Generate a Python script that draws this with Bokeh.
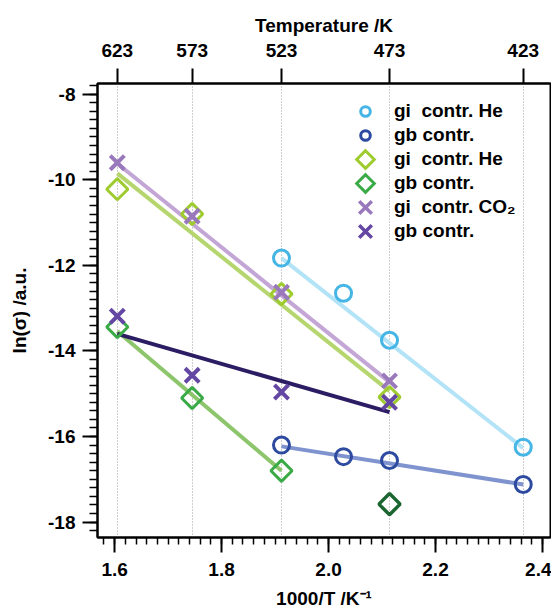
from bokeh.plotting import figure
from bokeh.models import (LinearAxis, FixedTicker, Range1d, Legend, LegendItem,
                          SingleIntervalTicker, NumeralTickFormatter, PolyAnnotation)
from bokeh.embed import file_html
from bokeh.resources import INLINE

# ---- top axis (temperature) ----
temps_K = [623, 573, 523, 473, 423]
temp_pos = [1.605, 1.745, 1.912, 2.114, 2.364]

# ---- gi contr. He (circles) ----
gi_he_c_x = [1.912, 2.028, 2.114, 2.364]
gi_he_c_y = [-11.83, -12.65, -13.75, -16.25]
gi_he_c_fit_x = [1.912, 2.364]
gi_he_c_fit_y = [-11.83, -16.27]

# ---- gb contr. (circles) ----
gb_c_x = [1.912, 2.028, 2.114, 2.364]
gb_c_y = [-16.2, -16.47, -16.56, -17.12]
gb_c_fit_x = [1.912, 2.364]
gb_c_fit_y = [-16.23, -17.12]

# ---- gi contr. He (diamonds) ----
gi_he_d_x = [1.605, 1.745, 1.912, 2.114]
gi_he_d_y = [-10.22, -10.8, -12.67, -15.08]
gi_he_d_fit_x = [1.605, 2.114]
gi_he_d_fit_y = [-9.85, -14.94]

# ---- gb contr. (diamonds) ----
gb_d_x = [1.605, 1.745, 1.912]
gb_d_y = [-13.44, -15.1, -16.8]
gb_d_fit_x = [1.605, 1.912]
gb_d_fit_y = [-13.54, -16.8]

# ---- extra dark-green diamond ----
extra_d_x = [2.114]
extra_d_y = [-17.58]

# ---- gi contr. CO2 (crosses) ----
gi_co2_x = [1.605, 1.745, 1.912, 2.114]
gi_co2_y = [-9.6, -10.85, -12.63, -14.7]
gi_co2_fit_x = [1.605, 2.114]
gi_co2_fit_y = [-9.62, -14.73]

# ---- gb contr. CO2 (crosses) ----
gb_co2_x = [1.605, 1.745, 1.912, 2.114]
gb_co2_y = [-13.19, -14.57, -14.96, -15.2]
gb_co2_fit_x = [1.605, 2.114]
gb_co2_fit_y = [-13.6, -15.43]

legend_labels = ["gi  contr. He", "gb contr.", "gi  contr. He", "gb contr.",
                 "gi  contr. CO\u2082", "gb contr."]

FONT = "Liberation Sans"
C_GI_HE_C = "#45b5e6"
C_GB_C = "#2d4aa0"
C_GI_HE_D = "#9ecb2e"
C_GB_D = "#3aaa47"
C_GI_CO2 = "#9a78bc"
C_GB_CO2 = "#6446a3"

# layout constants (pixels)
BORDER_L, BORDER_T = 97, 83
FRAME_W, FRAME_H = 453, 454

p = figure(frame_width=FRAME_W, frame_height=FRAME_H, output_backend="svg",
           toolbar_location=None,
           x_range=Range1d(1.568, 2.415), y_range=Range1d(-18.36, -7.75),
           min_border_left=BORDER_L, min_border_right=1, min_border_top=BORDER_T,
           min_border_bottom=66)
p.background_fill_color = "white"
p.outline_line_color = "black"
p.outline_line_width = 2

# grids
p.ygrid.visible = False
p.xgrid.ticker = FixedTicker(ticks=temp_pos)
p.xgrid.grid_line_color = "#9a9a9a"
p.xgrid.grid_line_dash = "1 2"
p.xgrid.grid_line_width = 1

def style_axis(ax, major_out, minor_out):
    ax.axis_line_color = "black"
    ax.axis_line_width = 2
    ax.major_tick_line_color = "black"
    ax.major_tick_line_width = 2
    ax.minor_tick_line_color = "black"
    ax.minor_tick_line_width = 1.5
    ax.major_tick_in = 0
    ax.major_tick_out = major_out
    ax.minor_tick_in = 0
    ax.minor_tick_out = minor_out
    ax.major_label_text_font = FONT
    ax.major_label_text_font_style = "bold"
    ax.major_label_text_font_size = "19px"
    ax.major_label_text_color = "black"
    ax.axis_label_text_font = FONT
    ax.axis_label_text_font_style = "bold"
    ax.axis_label_text_font_size = "19px"
    ax.axis_label_text_color = "black"

xb = p.xaxis[0]
xb.ticker = SingleIntervalTicker(interval=0.2, num_minor_ticks=10)
xb.formatter = NumeralTickFormatter(format="0.0")
style_axis(xb, 15, 7)
xb.axis_label = "1000/T /K\u207b\u00b9"
xb.major_label_standoff = 10
xb.axis_label_standoff = 9

yl = p.yaxis[0]
yl.ticker = SingleIntervalTicker(interval=2, num_minor_ticks=10)
yl.formatter = NumeralTickFormatter(format="0")
style_axis(yl, 15, 8)
yl.axis_label = "ln(\u03c3) /a.u."
yl.major_label_standoff = 7
yl.axis_label_standoff = 15

top = LinearAxis(ticker=FixedTicker(ticks=temp_pos, minor_ticks=[]),
                 major_label_overrides={tp: str(t) for tp, t in zip(temp_pos, temps_K)},
                 axis_label="Temperature /K")
style_axis(top, 15, 0)
top.major_label_standoff = 12
top.axis_label_standoff = 5
p.add_layout(top, "above")

# fit lines
LW = 4
p.line(gi_he_c_fit_x, gi_he_c_fit_y, line_color="#b3e3f7", line_width=LW)
p.line(gb_c_fit_x, gb_c_fit_y, line_color="#7f93cf", line_width=LW)
p.line(gi_he_d_fit_x, gi_he_d_fit_y, line_color="#b5d66f", line_width=LW)
p.line(gb_d_fit_x, gb_d_fit_y, line_color="#8cc56b", line_width=LW)
p.line(gi_co2_fit_x, gi_co2_fit_y, line_color="#c3a6d6", line_width=LW)
p.line(gb_co2_fit_x, gb_co2_fit_y, line_color="#2c1c63", line_width=LW)

# markers
r1 = p.scatter(gi_he_c_x, gi_he_c_y, marker="circle", size=16, fill_color=None,
               line_color=C_GI_HE_C, line_width=3)
r2 = p.scatter(gb_c_x, gb_c_y, marker="circle", size=16, fill_color=None,
               line_color=C_GB_C, line_width=3)
p.scatter(gi_he_d_x, gi_he_d_y, marker="square", angle=0.7854, size=15,
          fill_color=None, line_color=C_GI_HE_D, line_width=3)
p.scatter(gb_d_x, gb_d_y, marker="square", angle=0.7854, size=15,
          fill_color=None, line_color=C_GB_D, line_width=3)
p.scatter(extra_d_x, extra_d_y, marker="square", angle=0.7854, size=15,
          fill_color=None, line_color="#1b6630", line_width=3.5)
p.scatter(gi_co2_x, gi_co2_y, marker="x", size=20,
          line_color=C_GI_CO2, line_width=4)
p.scatter(gb_co2_x, gb_co2_y, marker="x", size=20,
          line_color=C_GB_CO2, line_width=4)

# legend-only placeholders for entries whose symbols are drawn below
def placeholder():
    return p.scatter([], [], marker="circle", size=1, fill_alpha=0, line_alpha=0)
r3_leg, r4_leg, r5_leg, r6_leg = placeholder(), placeholder(), placeholder(), placeholder()

# legend geometry
GLYPH_W, GLYPH_H = 28, 24
LEG_X, LEG_Y = 254, 294
n_items = len(legend_labels)
leg_h = n_items * GLYPH_H

legend = Legend(items=[LegendItem(label=lab, renderers=[r])
                       for lab, r in zip(legend_labels,
                                         [r1, r2, r3_leg, r4_leg, r5_leg, r6_leg])],
                location=(LEG_X, LEG_Y))
legend.border_line_color = None
legend.background_fill_alpha = 0
legend.padding = 0
legend.spacing = 0
legend.margin = 0
legend.glyph_width = GLYPH_W
legend.glyph_height = GLYPH_H
legend.label_height = 20
legend.label_standoff = 15
legend.label_text_font = FONT
legend.label_text_font_style = "bold"
legend.label_text_font_size = "19px"
legend.label_text_color = "black"
p.add_layout(legend, "center")

# legend symbols for the diamond and cross entries
leg_top = BORDER_T + FRAME_H - (LEG_Y + leg_h)
cx = BORDER_L + LEG_X + GLYPH_W / 2
hd = 8.8
for i, col in [(2, C_GI_HE_D), (3, C_GB_D)]:
    cy = leg_top + GLYPH_H / 2 + i * GLYPH_H
    p.add_layout(PolyAnnotation(xs=[cx, cx + hd, cx, cx - hd], ys=[cy - hd, cy, cy + hd, cy],
                                xs_units="canvas", ys_units="canvas",
                                fill_alpha=0, line_alpha=1, line_color=col, line_width=3,
                                line_join="miter"))
hx = 6.3
for i, col in [(4, C_GI_CO2), (5, C_GB_CO2)]:
    cy = leg_top + GLYPH_H / 2 + i * GLYPH_H
    for sgn in (1, -1):
        p.add_layout(PolyAnnotation(xs=[cx - hx, cx + hx], ys=[cy - sgn * hx, cy + sgn * hx],
                                    xs_units="canvas", ys_units="canvas",
                                    fill_alpha=0, line_alpha=1, line_color=col,
                                    line_width=3.5))

open("out.html", "w").write(file_html(p, INLINE))
